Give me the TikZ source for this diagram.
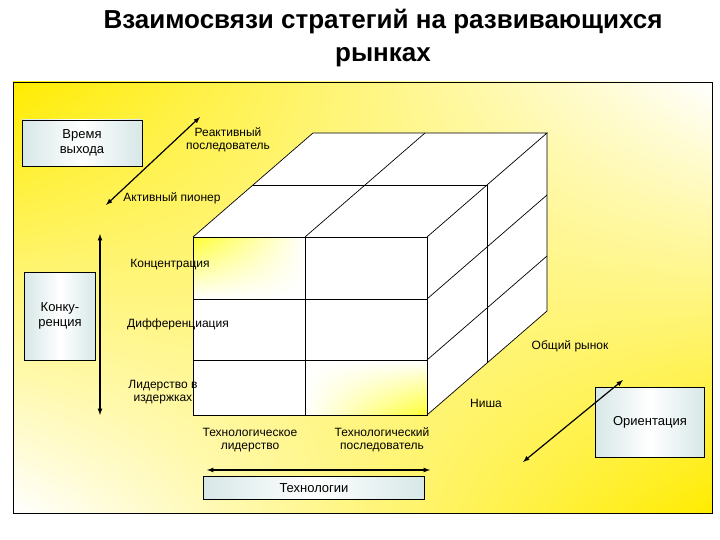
\documentclass[tikz,border=0pt]{standalone}
\usepackage{fontspec}
\setmainfont{Liberation Sans}
\usetikzlibrary{shadings}
\begin{document}
\begin{tikzpicture}[x=1pt,y=-1pt,
  lbl/.style={font=\fontsize{12}{13}\selectfont,align=center,inner sep=1pt},
  sbox/.style={draw,left color=cyan!25!gray!25,right color=cyan!25!gray!25,middle color=white,font=\fontsize{13}{15}\selectfont,align=center},
  arr/.style={<->,>=latex,line width=1.2pt},
  cl/.style={line width=0.7pt}]
\useasboundingbox (0,0) rectangle (720,540);
\fill[white] (0,0) rectangle (720,540);
\shade[upper left=yellow!85!orange,lower right=yellow!85!orange,upper right=white,lower left=white] (13,82) rectangle (712,513);
\draw[line width=0.8pt] (13,82) rectangle (712,513);
\node[font=\bfseries\fontsize{26}{33}\selectfont,align=center] (title) at (383,38) {Взаимосвязи стратегий на развивающихся\\рынках};
% cube
\coordinate (A) at (193,237); \coordinate (B) at (427,237);
\coordinate (C) at (427,415); \coordinate (D) at (193,415);
\fill[white] (A) rectangle (C);
\shade[upper left=yellow!80,lower right=white,upper right=white,lower left=white] (193,237) rectangle (305,299);
\shade[upper left=white,lower right=yellow!80,upper right=white,lower left=white] (305,360) rectangle (427,415);
\fill[white] (193,237) -- (313,133) -- (547,133) -- (427,237) -- cycle;
\fill[white] (427,237) -- (547,133) -- (547,311) -- (427,415) -- cycle;
\draw[cl] (A) rectangle (C);
\draw[cl] (305,237) -- (305,415) (193,299) -- (427,299) (193,360) -- (427,360);
\draw[cl] (A) -- (313,133) -- (547,133) -- (B);
\draw[cl] (305,237) -- (425,133);
\draw[cl] (253,185) -- (487,185) -- (487,363);
\draw[cl] (547,133) -- (547,311) -- (C);
\draw[cl] (427,299) -- (547,195) (427,360) -- (547,256);
% boxes
\node[sbox,minimum width=120,minimum height=46] (time) at (82,143) {Время\\выхода};
\node[sbox,minimum width=71,minimum height=88] (comp) at (60,316) {Конку-\\ренция};
\node[sbox,minimum width=109,minimum height=70] (orient) at (650,422) {Ориентация};
\node[sbox,minimum width=221,minimum height=23] (tech) at (314,488) {Технологии};
% arrow endpoints
\coordinate (t1) at (106,205); \coordinate (t2) at (200,117);
\coordinate (v1) at (100,234); \coordinate (v2) at (100,415);
\coordinate (h1) at (207,470); \coordinate (h2) at (430,470);
\coordinate (o1) at (523,462); \coordinate (o2) at (623,380);
\draw[arr] (t1) -- (t2);
\draw[arr] (v1) -- (v2);
\draw[arr] (h1) -- (h2);
\draw[arr] (o1) -- (o2);
% labels
\node[lbl] (l1) at (228,140) {Реактивный\\последователь};
\node[lbl] (l2) at (172,198) {Активный пионер};
\node[lbl] (l3) at (170,265) {Концентрация};
\node[lbl] (l4) at (178,324) {Дифференциация};
\node[lbl] (l5) at (163,392) {Лидерство в\\издержках};
\node[lbl] (l6) at (250,440) {Технологическое\\лидерство};
\node[lbl] (l7) at (382,440) {Технологический\\последователь};
\node[lbl] (l8) at (570,346) {Общий рынок};
\node[lbl] (l9) at (486,403) {Ниша};
\end{tikzpicture}
\end{document}
